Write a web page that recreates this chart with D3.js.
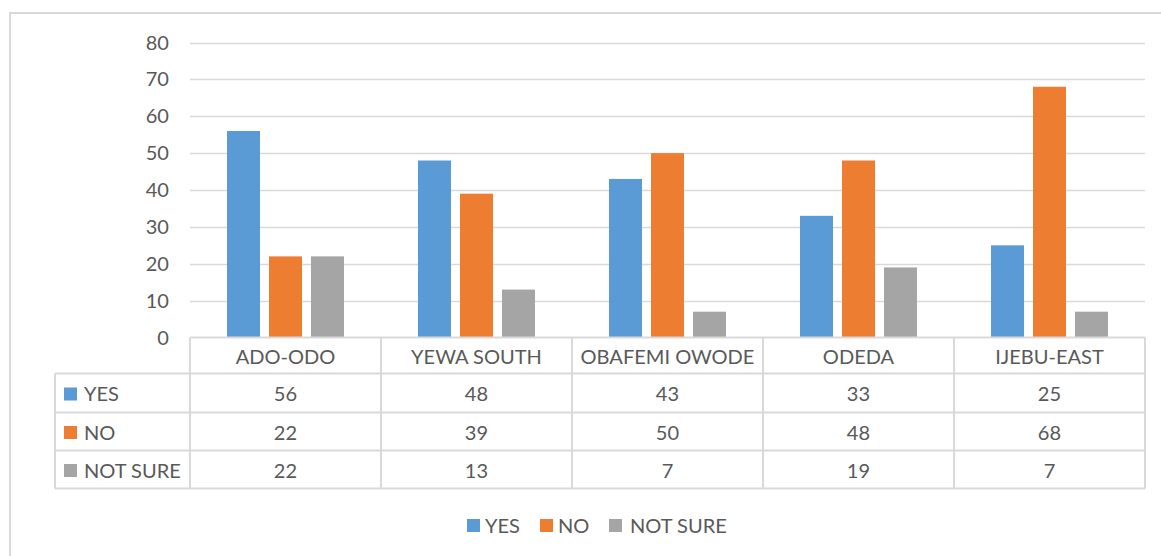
<!DOCTYPE html>
<html>
<head>
<meta charset="utf-8">
<script src="https://cdn.jsdelivr.net/npm/d3@7"></script>
<style>
  html, body { margin: 0; padding: 0; background: #fff; }
  svg { display: block; }
  text { font-family: Lato, "Open Sans", sans-serif; fill: #595959; }
</style>
</head>
<body>
<svg id="chart" width="1161" height="556"></svg>
<script>
const categories = ["ADO-ODO", "YEWA SOUTH", "OBAFEMI OWODE", "ODEDA", "IJEBU-EAST"];
const seriesNames = ["YES", "NO", "NOT SURE"];
const yesValues = [56, 48, 43, 33, 25];
const noValues = [22, 39, 50, 48, 68];
const notSureValues = [22, 13, 7, 19, 7];
const yTicks = [0, 10, 20, 30, 40, 50, 60, 70, 80];
const colors = ["#5B9BD5", "#ED7D31", "#A5A5A5"];

const seriesValues = [yesValues, noValues, notSureValues];
const svg = d3.select("#chart");

const plotLeft = 190, plotRight = 1145, plotTop = 42.5, plotBottom = 337.5;
const tableLeft = 55;
const rowLines = [337.5, 373.5, 412.5, 450.5, 488.5];

// Fit font size so the widest label matches the reference width (~175px)
const probe = svg.append("text").attr("font-size", 20).text("OBAFEMI OWODE");
const w20 = probe.node().getComputedTextLength();
probe.remove();
const FONT = Math.min(21, Math.max(15, 20 * 174 / w20));

// Outer frame
svg.append("rect").attr("x", 10).attr("y", 13).attr("width", 1160).attr("height", 560)
  .attr("fill", "none").attr("stroke", "#D9D9D9").attr("stroke-width", 2);

const x = d3.scaleBand().domain(categories).range([plotLeft, plotRight]);
const xInner = d3.scaleBand().domain(seriesNames).range([0, x.bandwidth()])
  .paddingInner(0.214).paddingOuter(0.881);
const y = d3.scaleLinear().domain([0, 80]).range([plotBottom, plotTop]);

// Gridlines
svg.append("g").selectAll("line").data(yTicks.filter(d => d > 0)).join("line")
  .attr("x1", plotLeft).attr("x2", plotRight)
  .attr("y1", d => Math.round(y(d)) + 0.5).attr("y2", d => Math.round(y(d)) + 0.5)
  .attr("stroke", "#D9D9D9").attr("stroke-width", 1.5);

// Y tick labels
svg.append("g").selectAll("text").data(yTicks).join("text")
  .attr("x", 169).attr("y", d => y(d)).attr("dy", "0.35em")
  .attr("text-anchor", "end").attr("font-size", FONT)
  .text(d => d);

// Bars
seriesNames.forEach((s, si) => {
  svg.append("g").selectAll("rect").data(categories).join("rect")
    .attr("x", c => x(c) + xInner(s))
    .attr("width", xInner.bandwidth())
    .attr("y", (c, i) => y(seriesValues[si][i]))
    .attr("height", (c, i) => y(0) - y(seriesValues[si][i]))
    .attr("fill", colors[si]);
});

// Data table
const tg = svg.append("g");
const lineColor = "#D9D9D9";
tg.append("line").attr("x1", plotLeft).attr("x2", plotRight).attr("y1", rowLines[0]).attr("y2", rowLines[0])
  .attr("stroke", lineColor).attr("stroke-width", 2);
rowLines.slice(1).forEach(ly => {
  tg.append("line").attr("x1", tableLeft).attr("x2", plotRight).attr("y1", ly).attr("y2", ly)
    .attr("stroke", lineColor).attr("stroke-width", 2);
});
const colEdges = categories.map(c => x(c)).concat([plotRight]);
colEdges.forEach(cx => {
  tg.append("line").attr("x1", cx).attr("x2", cx).attr("y1", rowLines[0]).attr("y2", rowLines[4])
    .attr("stroke", lineColor).attr("stroke-width", 2);
});
tg.append("line").attr("x1", tableLeft).attr("x2", tableLeft).attr("y1", rowLines[1]).attr("y2", rowLines[4])
  .attr("stroke", lineColor).attr("stroke-width", 2);

tg.selectAll("text.cat").data(categories).join("text").attr("class", "cat")
  .attr("x", c => x(c) + x.bandwidth() / 2)
  .attr("y", (rowLines[0] + rowLines[1]) / 2 + 1).attr("dy", "0.35em")
  .attr("text-anchor", "middle").attr("font-size", FONT)
  .text(c => c);

seriesNames.forEach((s, si) => {
  const cy = (rowLines[si + 1] + rowLines[si + 2]) / 2 + 1;
  tg.append("rect").attr("x", 64).attr("y", cy - 6.5).attr("width", 13).attr("height", 13)
    .attr("fill", colors[si]);
  tg.append("text").attr("x", 84).attr("y", cy).attr("dy", "0.35em")
    .attr("font-size", FONT).text(s);
  tg.selectAll("text.v" + si).data(categories).join("text").attr("class", "v" + si)
    .attr("x", c => x(c) + x.bandwidth() / 2)
    .attr("y", cy).attr("dy", "0.35em")
    .attr("text-anchor", "middle").attr("font-size", FONT)
    .text((c, i) => seriesValues[si][i]);
});

// Legend
const legendX = [467, 540, 609];
const legendTextX = [485, 558, 630];
const lg = svg.append("g");
seriesNames.forEach((s, si) => {
  lg.append("rect").attr("x", legendX[si]).attr("y", 519).attr("width", 13).attr("height", 13)
    .attr("fill", colors[si]);
  lg.append("text").attr("x", legendTextX[si]).attr("y", 525.5).attr("dy", "0.35em")
    .attr("font-size", FONT).text(s);
});
</script>
</body>
</html>
